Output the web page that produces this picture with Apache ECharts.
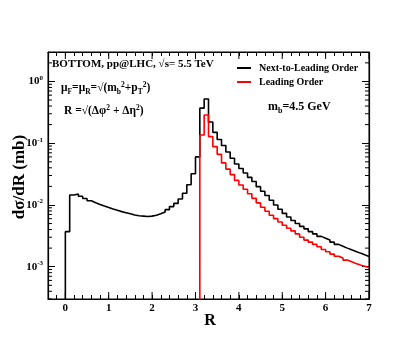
<!DOCTYPE html>
<html>
<head>
<meta charset="utf-8">
<script src="https://cdn.jsdelivr.net/npm/echarts@6/dist/echarts.min.js"></script>
<style>
html,body{margin:0;padding:0;background:#fff;}
#main{width:415px;height:352px;}
</style>
</head>
<body>
<div id="main"></div>
<script>
// histogram bins, width 0.1 in R
var binWidth = 0.1;
var nloStart = 0.0;
var loStart = 3.1;
// Next-to-Leading Order, dsigma/dR (mb), bins from R=0.0
var nloValues = [0.0037, 0.0145, 0.0151, 0.0138, 0.0127, 0.0117, 0.0109, 0.0102, 0.0096, 0.0091,
    0.0086, 0.0082, 0.0078, 0.0075, 0.0072, 0.0069, 0.0067, 0.0066, 0.0065, 0.0066,
    0.0068, 0.0072, 0.0077, 0.0084, 0.0094, 0.0106, 0.0125, 0.0155, 0.0212, 0.032,
    0.060, 0.37, 0.52, 0.22, 0.150, 0.115, 0.092, 0.072, 0.057, 0.046,
    0.039, 0.033, 0.028, 0.024, 0.0198, 0.0167, 0.0142, 0.0119, 0.0100, 0.0085,
    0.0073, 0.0064, 0.0056, 0.0050, 0.0045, 0.0041, 0.0037, 0.0034, 0.0031, 0.0029,
    0.0027, 0.0025, 0.0023, 0.00215, 0.0020, 0.00188, 0.00177, 0.00166, 0.00156, 0.00147];
// Leading Order, bins from R=3.1
var loValues = [0.136, 0.287, 0.128, 0.088, 0.066, 0.048, 0.038, 0.031, 0.025,
    0.021, 0.018, 0.0152, 0.0128, 0.0108, 0.0092, 0.0079, 0.0068, 0.0060, 0.0053,
    0.0047, 0.0042, 0.0038, 0.0034, 0.0030, 0.0027, 0.0025, 0.0023, 0.0021, 0.0019,
    0.00175, 0.0016, 0.00148, 0.00138, 0.00128, 0.0012, 0.00113, 0.00107, 0.00102, 0.00097];
var xMajorTicks = [0, 1, 2, 3, 4, 5, 6, 7];
var xMin = -0.4, xMax = 7;
var yMin = 3e-4, yMax = 3;

var FONT = '"Liberation Serif", "DejaVu Serif", serif';

function histPoints(start, vals){
    // step line: start at floor, then one point per bin edge
    var pts = [[start, 1e-7]];
    for (var i = 0; i < vals.length; i++) {
        pts.push([+(start + i * binWidth).toFixed(3), vals[i]]);
    }
    pts.push([+(start + vals.length * binWidth).toFixed(3), vals[vals.length - 1]]);
    return pts;
}

// minor ticks of the log axis: 2..9 x 10^k
var yMinorTicks = [];
for (var k = -4; k <= 0; k++) {
    for (var m = 2; m <= 9; m++) {
        var v = m * Math.pow(10, k);
        if (v > yMin && v < yMax) yMinorTicks.push(v);
    }
}

function renderTicks(params, api){
    var kids = [];
    var ln = function(x1, y1, x2, y2){
        kids.push({type: 'line', shape: {x1: x1, y1: y1, x2: x2, y2: y2},
            style: {stroke: '#000', lineWidth: 1}});
    };
    xMajorTicks.forEach(function(x){
        var b = api.coord([x, yMin]), t = api.coord([x, yMax]);
        ln(b[0], b[1], b[0], b[1] - 7);
        ln(t[0], t[1], t[0], t[1] + 7);
    });
    yMinorTicks.forEach(function(y){
        var l = api.coord([xMin, y]), r = api.coord([xMax, y]);
        ln(l[0], l[1], l[0] + 4, l[1]);
        ln(r[0], r[1], r[0] - 4, r[1]);
    });
    return {type: 'group', children: kids};
}

var supRich = {
    b: {fontFamily: FONT, fontWeight: 'bold', fontSize: 11, color: '#000'},
    e: {fontFamily: FONT, fontWeight: 'bold', fontSize: 7, color: '#000', verticalAlign: 'bottom', padding: [0, 0, 7, 0]}
};

var option = {
    backgroundColor: '#fff',
    animation: false,
    grid: {left: 48, right: 46, top: 52, bottom: 53, show: true, borderColor: '#000', borderWidth: 1,
        containLabel: false, outerBoundsMode: 'none'},
    legend: {
        orient: 'vertical', left: 237, top: 63, itemGap: 4, padding: 0,
        itemWidth: 14, itemHeight: 2, icon: 'rect',
        textStyle: {fontFamily: FONT, fontWeight: 'bold', fontSize: 10, color: '#000', padding: [0, 0, 0, 3]},
        data: ['Next-to-Leading Order', 'Leading Order']
    },
    xAxis: [{
        type: 'value', min: xMin, max: xMax, interval: 0.2,
        axisLine: {onZero: false, lineStyle: {color: '#000', width: 1.2}},
        axisTick: {inside: true, length: 4, lineStyle: {color: '#000'}},
        splitLine: {show: false},
        axisLabel: {
            fontFamily: FONT, fontWeight: 'bold', fontSize: 11, color: '#000', margin: 4,
            formatter: function(v){ return Math.abs(v - Math.round(v)) < 1e-6 ? String(Math.round(v)) : ''; }
        }
    }, {
        type: 'value', min: xMin, max: xMax, interval: 0.2, position: 'top',
        axisLine: {onZero: false, lineStyle: {color: '#000', width: 1.2}},
        axisTick: {inside: true, length: 4, lineStyle: {color: '#000'}},
        splitLine: {show: false}, axisLabel: {show: false}
    }],
    yAxis: [{
        type: 'log', logBase: 10, min: yMin, max: yMax,
        axisLine: {show: true, onZero: false, lineStyle: {color: '#000', width: 1.2}},
        axisTick: {inside: true, length: 7, lineStyle: {color: '#000'}},
        splitLine: {show: false},
        axisLabel: {
            margin: 5, showMinLabel: false, showMaxLabel: false, rich: supRich,
            formatter: function(v){
                var l = Math.log10(v), e = Math.round(l);
                if (Math.abs(l - e) > 1e-6) return '';
                return '{b|10}{e|' + e + '}';
            }
        }
    }, {
        type: 'log', logBase: 10, min: yMin, max: yMax, position: 'right',
        axisLine: {show: true, onZero: false, lineStyle: {color: '#000', width: 1.2}},
        axisTick: {inside: true, length: 7, lineStyle: {color: '#000'}},
        splitLine: {show: false}, axisLabel: {show: false}
    }],
    graphic: [
        // axis titles
        {type: 'text', x: 20, y: 177, rotation: Math.PI / 2, style: {
            text: 'dσ/dR (mb)', font: 'bold 17px ' + FONT, fill: '#000',
            align: 'center', verticalAlign: 'middle'}},
        {type: 'text', x: 210, y: 321, style: {
            text: 'R', font: 'bold 16px ' + FONT, fill: '#000',
            align: 'center', verticalAlign: 'middle'}},
        {type: 'text', left: 52, top: 59, style: {
            text: 'BOTTOM, pp@LHC, √s= 5.5 TeV',
            font: 'bold 11px ' + FONT, fill: '#000'}},
        {type: 'text', left: 61, top: 81, style: {
            text: '{t|μ}{s|F}{t|=μ}{s|R}{t|=√(m}{s|b}{p|2}{t|+p}{s|T}{p|2}{t|)}',
            rich: {
                t: {fontFamily: FONT, fontWeight: 'bold', fontSize: 11.5, fill: '#000'},
                s: {fontFamily: FONT, fontWeight: 'bold', fontSize: 7.5, fill: '#000', verticalAlign: 'top', padding: [7, 0, 0, 0]},
                p: {fontFamily: FONT, fontWeight: 'bold', fontSize: 7.5, fill: '#000', verticalAlign: 'bottom', padding: [0, 0, 7, 0]}
            }}},
        {type: 'text', left: 64, top: 104, style: {
            text: '{t|R =√(Δφ}{p|2}{t| + Δη}{p|2}{t|)}',
            rich: {
                t: {fontFamily: FONT, fontWeight: 'bold', fontSize: 11.5, fill: '#000'},
                p: {fontFamily: FONT, fontWeight: 'bold', fontSize: 7.5, fill: '#000', verticalAlign: 'bottom', padding: [0, 0, 7, 0]}
            }}},
        {type: 'text', left: 268, top: 101, style: {
            text: '{t|m}{s|b}{t|=4.5 GeV}',
            rich: {
                t: {fontFamily: FONT, fontWeight: 'bold', fontSize: 12, fill: '#000'},
                s: {fontFamily: FONT, fontWeight: 'bold', fontSize: 8, fill: '#000', verticalAlign: 'top', padding: [7, 0, 0, 0]}
            }}}
    ],
    series: [{
        name: 'Next-to-Leading Order', type: 'line', step: 'end',
        xAxisIndex: 0, yAxisIndex: 0,
        data: histPoints(nloStart, nloValues),
        showSymbol: false, symbol: 'none', clip: true,
        itemStyle: {color: '#000'},
        lineStyle: {color: '#000', width: 1.6}
    }, {
        name: 'Leading Order', type: 'line', step: 'end',
        xAxisIndex: 0, yAxisIndex: 0,
        data: histPoints(loStart, loValues),
        showSymbol: false, symbol: 'none', clip: true,
        itemStyle: {color: '#ff0000'},
        lineStyle: {color: '#ff0000', width: 1.6}
    }, {
        type: 'custom', xAxisIndex: 0, yAxisIndex: 0, silent: true, clip: false,
        renderItem: renderTicks, data: [[1, 0.01]], z: 5
    }]
};

var myChart = echarts.init(document.getElementById('main'));
myChart.setOption(option);
</script>
</body>
</html>
